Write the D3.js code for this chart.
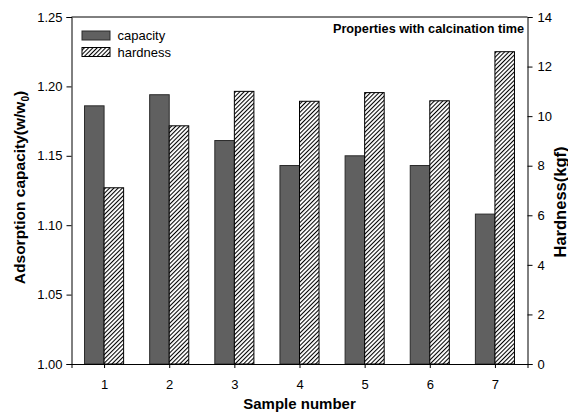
<!DOCTYPE html>
<html>
<head>
<meta charset="utf-8">
<script src="https://cdn.jsdelivr.net/npm/d3@7"></script>
<style>
  body { margin: 0; background: #fff; }
  svg { display: block; font-family: "Liberation Sans", Arial, sans-serif; }
  .axis path, .axis line { stroke: #000; stroke-width: 1; }
  .axis text { font-size: 13px; fill: #000; }
</style>
</head>
<body>
<div id="chart"></div>
<script>
// sample numbers and the two measured properties
var samples = [1, 2, 3, 4, 5, 6, 7];
var capacity = [1.186, 1.194, 1.161, 1.143, 1.150, 1.143, 1.108];
var hardness = [7.11, 9.61, 11.0, 10.6, 10.95, 10.62, 12.6];
var leftTicks = [1.00, 1.05, 1.10, 1.15, 1.20, 1.25];
var rightTicks = [0, 2, 4, 6, 8, 10, 12, 14];

var width = 568, height = 414;
// plot box (note: "top" is reserved on window, so use a plain object)
var box = { l: 71.5, r: 527.5, t: 17, b: 364 };

var svg = d3.select("#chart").append("svg")
  .attr("width", width)
  .attr("height", height);

// hatch for hardness bars
var hs = 3;
var defs = svg.append("defs");
var pat = defs.append("pattern")
  .attr("id", "hatch")
  .attr("patternUnits", "userSpaceOnUse")
  .attr("width", hs)
  .attr("height", hs)
  .attr("patternTransform", "rotate(45)");
pat.append("rect").attr("width", hs).attr("height", hs).attr("fill", "#fff");
pat.append("line")
  .attr("x1", 0.5).attr("y1", 0).attr("x2", 0.5).attr("y2", hs)
  .attr("stroke", "#000").attr("stroke-width", 1.1);

var x = d3.scaleLinear().domain([0.5, 7.5]).range([box.l, box.r]);
var yL = d3.scaleLinear().domain([1, 1.25]).range([box.b, box.t]);
var yR = d3.scaleLinear().domain([0, 14]).range([box.b, box.t]);
var bw = x(0.3) - x(0);

// bars
svg.append("g").selectAll("rect")
  .data(capacity)
  .enter().append("rect")
  .attr("x", function(d, i) { return x(samples[i]) - bw; })
  .attr("y", function(d) { return yL(d); })
  .attr("width", bw)
  .attr("height", function(d) { return box.b - yL(d); })
  .attr("fill", "#606060")
  .attr("stroke", "#2a2a2a")
  .attr("stroke-width", 1);

svg.append("g").selectAll("rect")
  .data(hardness)
  .enter().append("rect")
  .attr("x", function(d, i) { return x(samples[i]); })
  .attr("y", function(d) { return yR(d); })
  .attr("width", bw)
  .attr("height", function(d) { return box.b - yR(d); })
  .attr("fill", "url(#hatch)")
  .attr("stroke", "#000")
  .attr("stroke-width", 1);

// frame top line
svg.append("line")
  .attr("x1", box.l).attr("x2", box.r)
  .attr("y1", box.t).attr("y2", box.t)
  .attr("stroke", "#000");

// axes
svg.append("g")
  .attr("class", "axis")
  .attr("transform", "translate(" + box.l + ",0)")
  .call(d3.axisLeft(yL).tickValues(leftTicks).tickFormat(d3.format(".2f")).tickSizeOuter(0).tickSize(5).tickPadding(4));

svg.append("g")
  .attr("class", "axis")
  .attr("transform", "translate(" + box.r + ",0)")
  .call(d3.axisRight(yR).tickValues(rightTicks).tickSizeOuter(0).tickSize(5).tickPadding(5));

svg.append("g")
  .attr("class", "axis")
  .attr("transform", "translate(0," + box.b + ")")
  .call(d3.axisBottom(x).tickValues(samples).tickFormat(d3.format("d")).tickSizeOuter(0).tickSize(4).tickPadding(12));

// axis titles
svg.append("text")
  .attr("transform", "translate(" + 25 + "," + ((box.t + box.b) / 2 - 3) + ") rotate(-90)")
  .attr("text-anchor", "middle")
  .style("font-size", "15.5px")
  .style("font-weight", "bold")
  .html('Adsorption capacity(w/w<tspan dy="4" font-size="10px">0</tspan><tspan dy="-4">)</tspan>');

svg.append("text")
  .attr("transform", "translate(" + 566 + "," + 202 + ") rotate(-90)")
  .attr("text-anchor", "middle")
  .style("font-size", "16.5px")
  .style("font-weight", "bold")
  .text("Hardness(kgf)");

svg.append("text")
  .attr("x", (box.l + box.r) / 2)
  .attr("y", 408.5)
  .attr("text-anchor", "middle")
  .style("font-size", "15px")
  .style("font-weight", "bold")
  .text("Sample number");

svg.append("text")
  .attr("x", 524)
  .attr("y", 32.5)
  .attr("text-anchor", "end")
  .style("font-size", "12.7px")
  .style("font-weight", "bold")
  .text("Properties with calcination time");

// legend
var legend = [
  { label: "capacity", fill: "#606060", stroke: "#2a2a2a", y: 31 },
  { label: "hardness", fill: "url(#hatch)", stroke: "#000", y: 47.5 }
];
var lg = svg.append("g");
lg.selectAll("rect")
  .data(legend)
  .enter().append("rect")
  .attr("x", 82).attr("y", function(d) { return d.y; })
  .attr("width", 28).attr("height", 9)
  .attr("fill", function(d) { return d.fill; })
  .attr("stroke", function(d) { return d.stroke; });
lg.selectAll("text")
  .data(legend)
  .enter().append("text")
  .attr("x", 117.5).attr("y", function(d) { return d.y + 9; })
  .style("font-size", "13px")
  .text(function(d) { return d.label; });
</script>
</body>
</html>
